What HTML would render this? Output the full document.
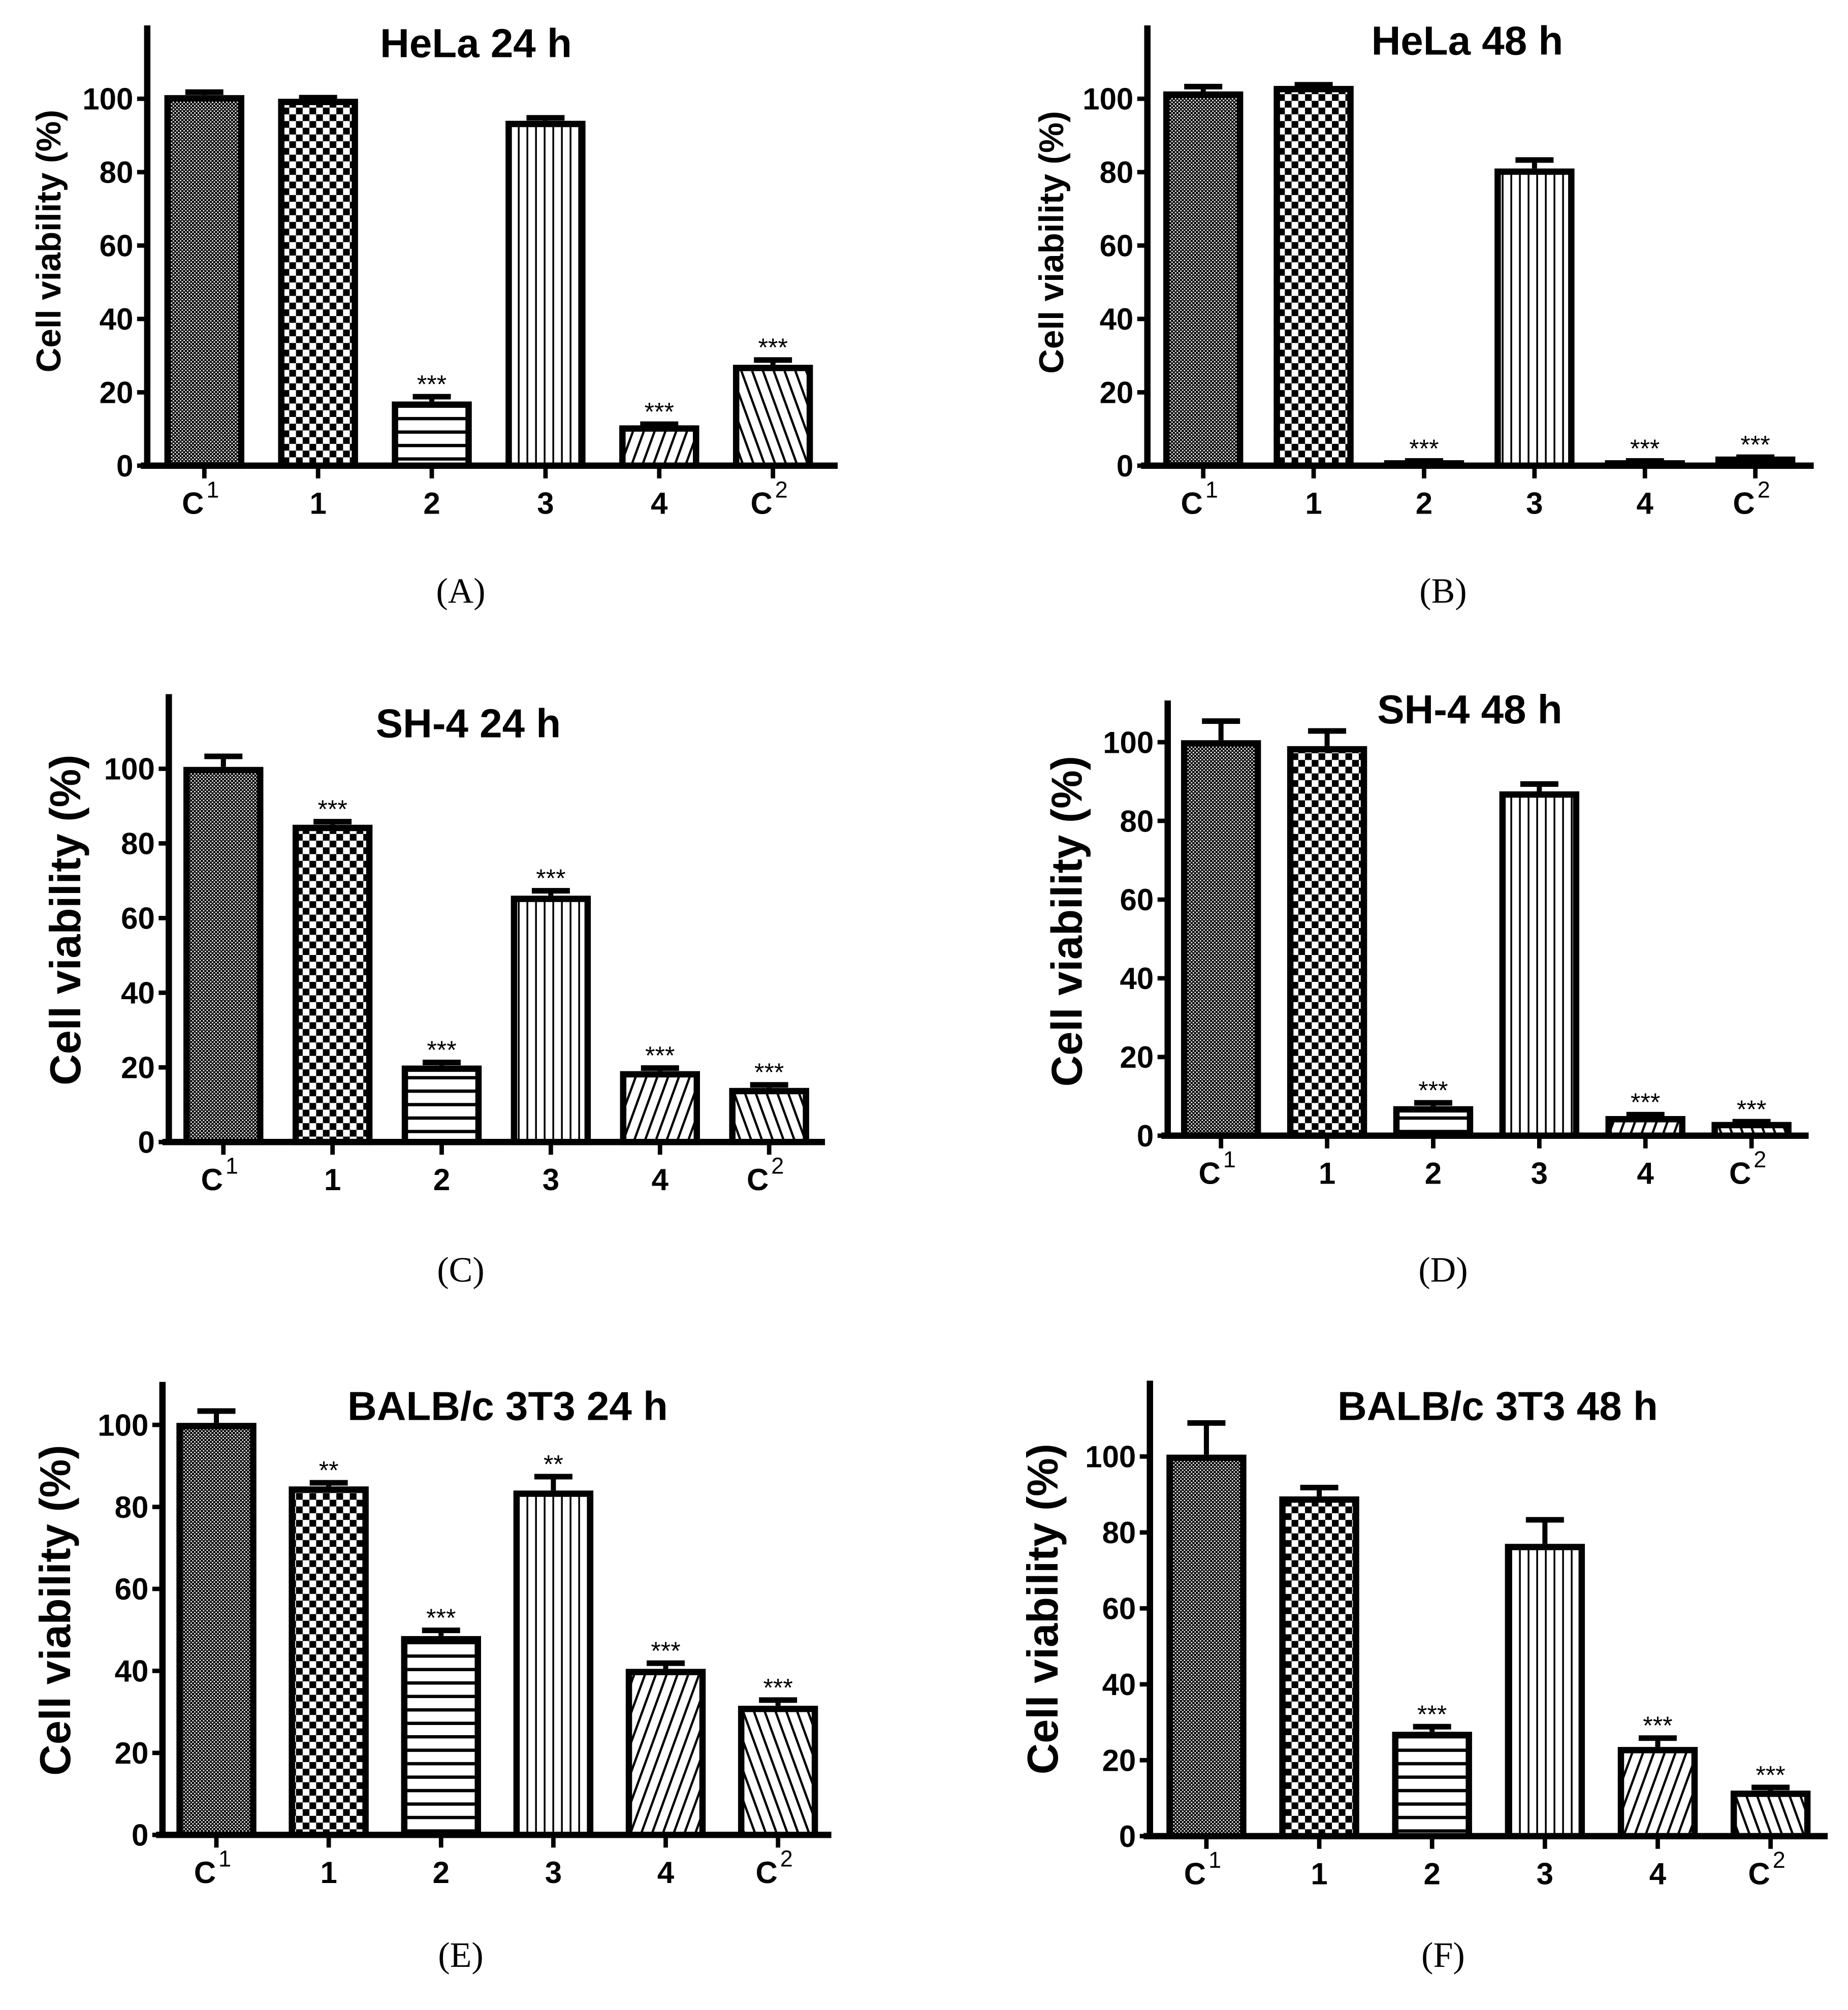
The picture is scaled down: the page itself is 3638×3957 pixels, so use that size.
<!DOCTYPE html>
<html><head><meta charset="utf-8">
<style>
html,body{margin:0;padding:0;background:#fff;}
svg{display:block;}
text{font-family:"Liberation Sans",sans-serif;font-weight:bold;fill:#000;}
.cap{font-family:"Liberation Serif",serif;font-weight:normal;}
</style></head>
<body>
<svg id="fig" width="3638" height="3957" viewBox="0 0 1456 1584" preserveAspectRatio="none" xmlns="http://www.w3.org/2000/svg">
<defs>
  <pattern id="p-c1" patternUnits="userSpaceOnUse" width="2.8" height="2.8">
    <rect width="2.8" height="2.8" fill="#000"/>
    <rect x="0.3" y="0.3" width="1.1" height="1.1" fill="#fff"/>
    <rect x="1.7" y="1.7" width="1.1" height="1.1" fill="#fff"/>
  </pattern>
  <pattern id="p-1" patternUnits="userSpaceOnUse" width="10.6" height="10.6">
    <rect width="10.6" height="10.6" fill="#fff"/>
    <rect width="5.3" height="5.3" fill="#000"/>
    <rect x="5.3" y="5.3" width="5.3" height="5.3" fill="#000"/>
  </pattern>
  <pattern id="p-2" patternUnits="userSpaceOnUse" width="10" height="10.6">
    <rect width="10" height="10.6" fill="#fff"/>
    <rect y="0" width="10" height="2.6" fill="#000"/>
  </pattern>
  <pattern id="p-3" patternUnits="userSpaceOnUse" width="6.8" height="10">
    <rect width="6.8" height="10" fill="#fff"/>
    <rect x="0" width="1.4" height="10" fill="#000"/>
  </pattern>
  <pattern id="p-4" patternUnits="userSpaceOnUse" width="8" height="8" patternTransform="rotate(20)">
    <rect width="8" height="8" fill="#fff"/>
    <rect width="1.8" height="8" fill="#000"/>
  </pattern>
  <pattern id="p-c2" patternUnits="userSpaceOnUse" width="8" height="8" patternTransform="rotate(-20)">
    <rect width="8" height="8" fill="#fff"/>
    <rect width="1.8" height="8" fill="#000"/>
  </pattern>
</defs>
</svg>
<script>
const categories = ["C", "1", "2", "3", "4", "C"];
const catSup = ["1", "", "", "", "", "2"];
const yTicks = [0, 20, 40, 60, 80, 100];
const titles = ["HeLa 24 h", "HeLa 48 h", "SH-4 24 h", "SH-4 48 h", "BALB/c 3T3 24 h", "BALB/c 3T3 48 h"];
const panelLetters = ["(A)", "(B)", "(C)", "(D)", "(E)", "(F)"];
const valuesA = [101, 100, 17.5, 94, 11, 27.5];
const errorsA = [1.5, 1, 2, 1.5, 1, 2];
const starsA = ["", "", "***", "", "***", "***"];
const valuesB = [102, 103.5, 1.5, 81, 1.5, 2.5];
const errorsB = [2, 1, 0.5, 3, 0.5, 0.5];
const starsB = ["", "", "***", "", "***", "***"];
const valuesC = [100.5, 85, 20.5, 66, 19, 14.5];
const errorsC = [3.5, 1.5, 1.5, 2, 1.5, 1.5];
const starsC = ["", "***", "***", "***", "***", "***"];
const valuesD = [100.5, 99, 7.5, 87.5, 5, 3.5];
const errorsD = [5.5, 4.5, 1.5, 2.5, 1, 0.7];
const starsD = ["", "", "***", "", "***", "***"];
const valuesE = [100.5, 85, 48.5, 84, 40.5, 31.5];
const errorsE = [3.5, 1.5, 2, 4, 2, 2];
const starsE = ["", "**", "***", "**", "***", "***"];
const valuesF = [100.5, 89.5, 27.5, 77, 23.5, 12];
const errorsF = [9, 3, 2, 7, 3, 1.5];
const starsF = ["", "", "***", "", "***", "***"];
const yMaxes = [120, 120, 120, 110.6, 110.5, 120];

const allValues = [valuesA, valuesB, valuesC, valuesD, valuesE, valuesF];
const allErrors = [errorsA, errorsB, errorsC, errorsD, errorsE, errorsF];
const allStars = [starsA, starsB, starsC, starsD, starsE, starsF];
const patterns = ["p-c1", "p-1", "p-2", "p-3", "p-4", "p-c2"];

// layout (overview units)
const layouts = [
  {ax:116, top:20, zero:367, x0:161, x1:609, xEnd:660, tx:375, ty:45, lcx:38, ly:190, fs:27, cx:363, cy:475},
  {ax:904, top:20, zero:367, x0:948, x1:1383, xEnd:1429, tx:1156, ty:43, lcx:828, ly:191, fs:27, cx:1137, cy:475},
  {ax:133, top:547, zero:900, x0:176, x1:606, xEnd:650, tx:369, ty:581, lcx:51, ly:725, fs:34, cx:363, cy:1010},
  {ax:920, top:552, zero:895, x0:962, x1:1380, xEnd:1425, tx:1158, ty:570, lcx:840, ly:726, fs:34, cx:1137, cy:1010},
  {ax:128, top:1089, zero:1446, x0:170.5, x1:613, xEnd:655, tx:400, ty:1119, lcx:43, ly:1269, fs:34, cx:363, cy:1550},
  {ax:906, top:1088, zero:1447, x0:950.5, x1:1395, xEnd:1440, tx:1180, ty:1119, lcx:821, ly:1268, fs:34, cx:1137, cy:1550}
];

const NS = "http://www.w3.org/2000/svg";
const svg = document.getElementById("fig");
function mk(tag, attrs, parent) {
  const e = document.createElementNS(NS, tag);
  for (const k in attrs) e.setAttribute(k, attrs[k]);
  (parent || svg).appendChild(e);
  return e;
}

for (let p = 0; p < 6; p++) {
  const L = layouts[p];
  const vals = allValues[p], errs = allErrors[p], stars = allStars[p];
  const yMax = yMaxes[p];
  const yScale = v => L.zero - (v / yMax) * (L.zero - L.top);
  const xScale = i => L.x0 + i * (L.x1 - L.x0) / (categories.length - 1);
  const g = mk("g", {});
  
  

  const bw = 63;
  for (let i = 0; i < vals.length; i++) {
    const cx = xScale(i);
    const yv = yScale(vals[i]);
    const ye = yScale(vals[i] + errs[i]);
    const eb = mk("g", {}, g);
    
    
    mk("line", {x1: cx, x2: cx, y1: yv, y2: ye, stroke: "#000", "stroke-width": 4}, eb);
    mk("line", {x1: cx - 15, x2: cx + 15, y1: ye + 2, y2: ye + 2, stroke: "#000", "stroke-width": 4.4}, eb);
    const r = mk("rect", {x: cx - bw / 2 + 2.5, y: yv + 2.5, width: bw - 5, height: Math.max(0, L.zero - yv - 2.5), fill: "url(#" + patterns[i] + ")", stroke: "#000", "stroke-width": 5}, g);
    
    
    if (stars[i]) {
      const s = mk("text", {x: cx, y: ye - 1, "text-anchor": "middle", "font-size": 20, style: "font-weight:normal"}, g);
      s.textContent = stars[i];
      
      
    }
    const tk = mk("line", {x1: cx, x2: cx, y1: L.zero, y2: L.zero + 10, stroke: "#000", "stroke-width": 3.5}, g);
    
    
    const lab = mk("text", {x: cx + (catSup[i] ? -3 : 0), y: L.zero + 38, "text-anchor": "middle", "font-size": 24}, g);
    lab.textContent = categories[i];
    
    
    if (catSup[i]) {
      const sp = mk("tspan", {dx: 2, dy: -13, "font-size": 18, style: "font-weight:normal"}, lab);
      sp.textContent = catSup[i];
    }
  }

  const ya = mk("line", {x1: L.ax, x2: L.ax, y1: L.top, y2: L.zero + 2, stroke: "#000", "stroke-width": 5}, g);
  
  
  const xa = mk("line", {x1: L.ax - 5, x2: L.xEnd, y1: L.zero, y2: L.zero, stroke: "#000", "stroke-width": 5}, g);
  
  
  for (const t of yTicks) {
    const y = yScale(t);
    mk("line", {x1: L.ax - 8, x2: L.ax, y1: y, y2: y, stroke: "#000", "stroke-width": 3.5}, g);
    const tl = mk("text", {x: L.ax - 11, y: y + 8.5, "text-anchor": "end", "font-size": 24}, g);
    tl.textContent = t;
    
    
  }
  const title = mk("text", {x: L.tx, y: L.ty, "text-anchor": "middle", "font-size": 32}, g);
  title.textContent = titles[p];
  
  
  const yl = mk("text", {x: 0, y: 0, "text-anchor": "middle", "font-size": L.fs, transform: "translate(" + (L.lcx + L.fs * 0.36) + "," + L.ly + ") rotate(-90)"}, g);
  yl.textContent = "Cell viability (%)";
  
  
  const cap = mk("text", {class: "cap", x: L.cx, y: L.cy, "text-anchor": "middle", "font-size": 28}, g);
  cap.textContent = panelLetters[p];
  
  
}
</script>
</body></html>
